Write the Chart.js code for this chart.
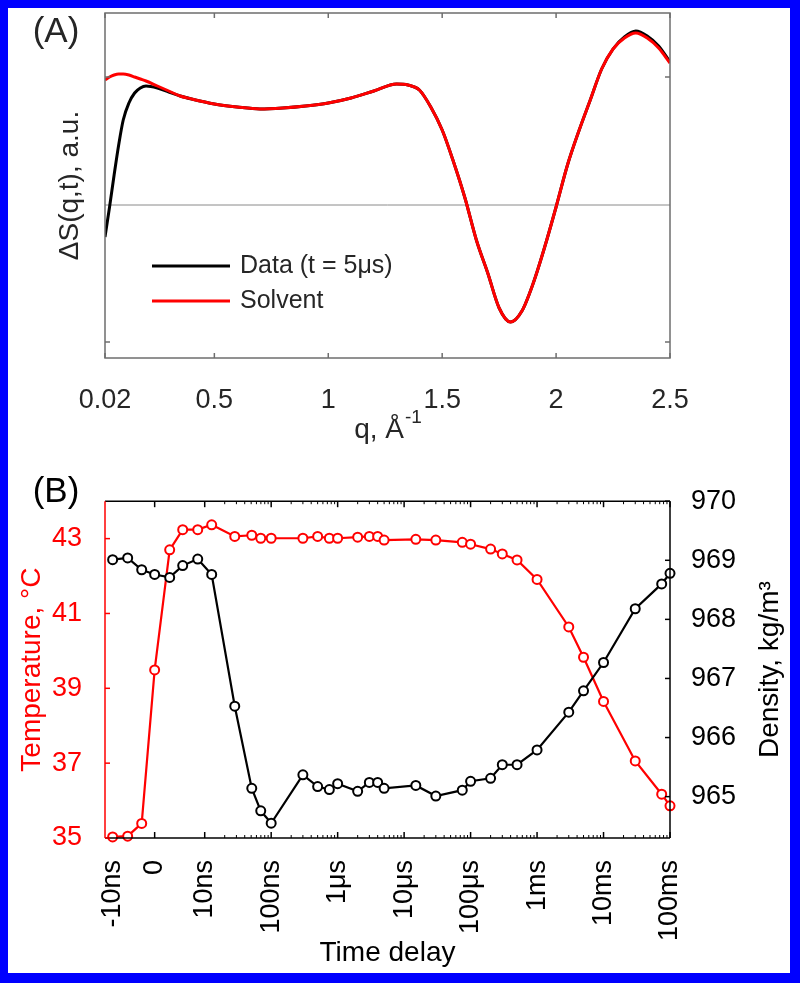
<!DOCTYPE html>
<html>
<head>
<meta charset="utf-8">
<script src="https://cdn.jsdelivr.net/npm/chart.js@4.4.0/dist/chart.umd.min.js"></script>
<style>
  html, body { margin: 0; padding: 0; background: #fff; }
  #page { position: relative; width: 800px; height: 983px; overflow: hidden; background: #fff; }
  #frame { position: absolute; left: 0; top: 0; width: 800px; height: 983px; box-sizing: border-box;
           border: solid #0000ff; border-width: 8px 10px 10px 8px; pointer-events: none; }
  #chartA { position: absolute; left: 0; top: 0; }
  #chartB { position: absolute; left: 0; top: 470px; }
</style>
</head>
<body>
<div id="page">
  <canvas id="chartA" width="800" height="470"></canvas>
  <canvas id="chartB" width="800" height="513"></canvas>
  <div id="frame"></div>
</div>
<script>
// ---- panel (A): difference signal vs q (arbitrary units) ----
var qVals   = [0.02, 0.04, 0.06, 0.08, 0.10, 0.125, 0.15, 0.175, 0.20, 0.25, 0.30, 0.35, 0.40, 0.50, 0.60, 0.70, 0.80, 0.90, 1.00, 1.10, 1.20, 1.30, 1.35, 1.40, 1.45, 1.50, 1.55, 1.60, 1.65, 1.70, 1.75, 1.80, 1.85, 1.90, 1.95, 2.00, 2.05, 2.10, 2.15, 2.20, 2.25, 2.30, 2.35, 2.40, 2.45, 2.50];
var solvent = [1.25, 1.28, 1.30, 1.31, 1.31, 1.30, 1.28, 1.26, 1.24, 1.19, 1.14, 1.09, 1.06, 1.01, 0.98, 0.96, 0.97, 0.99, 1.02, 1.07, 1.14, 1.21, 1.20, 1.15, 0.98, 0.75, 0.43, 0.07, -0.35, -0.68, -1.03, -1.17, -1.06, -0.78, -0.42, -0.02, 0.40, 0.74, 1.05, 1.36, 1.56, 1.67, 1.72, 1.67, 1.57, 1.42];
var dataSig = [-0.32, -0.02, 0.30, 0.60, 0.85, 1.02, 1.12, 1.17, 1.19, 1.17, 1.13, 1.09, 1.06, 1.01, 0.98, 0.96, 0.97, 0.99, 1.02, 1.07, 1.14, 1.21, 1.20, 1.15, 0.98, 0.75, 0.43, 0.07, -0.35, -0.68, -1.03, -1.17, -1.06, -0.78, -0.42, -0.02, 0.40, 0.74, 1.05, 1.36, 1.56, 1.68, 1.74, 1.69, 1.59, 1.43];
var qTicks  = [0.02, 0.5, 1, 1.5, 2, 2.5];
var auTicks = [-1.37, 1.28];

// ---- panel (B): temperature and density vs time delay ----
// position on the time axis = log10(delay / ns); points before 10 ns sit on the stretch near zero
var delayPos    = [-0.385, -0.159, 0.052, 0.247, 0.473, 0.669, 0.895, 1.105, 1.452, 1.708, 1.843, 2.0, 2.477, 2.699, 2.875, 3.0, 3.301, 3.477, 3.602, 3.699, 4.176, 4.477, 4.875, 5.0, 5.301, 5.477, 5.699, 6.0, 6.477, 6.699, 7.0, 7.477, 7.875, 8.0];
var temperature = [35.03, 35.05, 35.39, 39.49, 42.70, 43.24, 43.24, 43.37, 43.06, 43.09, 43.01, 43.01, 43.01, 43.06, 43.01, 43.01, 43.04, 43.06, 43.06, 42.96, 42.98, 42.96, 42.90, 42.85, 42.72, 42.59, 42.43, 41.91, 40.64, 39.83, 38.65, 37.06, 36.17, 35.86];
var density     = [969.01, 969.04, 968.84, 968.76, 968.71, 968.91, 969.02, 968.76, 966.53, 965.14, 964.76, 964.55, 965.37, 965.17, 965.12, 965.22, 965.09, 965.24, 965.24, 965.14, 965.19, 965.01, 965.11, 965.26, 965.31, 965.54, 965.54, 965.79, 966.43, 966.79, 967.27, 968.18, 968.60, 968.78];
var delayTickPos    = [-0.385, 0.247, 1, 2, 3, 4, 5, 6, 7, 8];
var delayTickLabels = ['-10ns', '0', '10ns', '100ns', '1\u03bcs', '10\u03bcs', '100\u03bcs', '1ms', '10ms', '100ms'];
var tempTicks = [35, 37, 39, 41, 43];
var densTicks = [965, 966, 967, 968, 969, 970];

Chart.defaults.font.family = '"Liberation Sans", Arial, sans-serif';

function pts(xs, ys) {
  return xs.map(function (x, i) { return { x: x, y: ys[i] }; });
}

function line(ctx, x1, y1, x2, y2) {
  ctx.beginPath();
  ctx.moveTo(x1, y1);
  ctx.lineTo(x2, y2);
  ctx.stroke();
}

// zero line, box, inward ticks, legend and labels for (A)
var frameA = {
  id: 'frameA',
  beforeDatasetsDraw: function (chart) {
    var ctx = chart.ctx, a = chart.chartArea;
    var y0 = chart.scales.y.getPixelForValue(0);
    ctx.save();
    ctx.strokeStyle = '#8a8a8a';
    ctx.lineWidth = 1;
    line(ctx, a.left, y0, a.right, y0);
    ctx.restore();
  },
  afterDraw: function (chart) {
    var ctx = chart.ctx, a = chart.chartArea;
    var xs = chart.scales.x, ys = chart.scales.y;
    ctx.save();
    ctx.strokeStyle = '#6e6e6e';
    ctx.lineWidth = 1.5;
    ctx.strokeRect(a.left, a.top, a.right - a.left, a.bottom - a.top);
    qTicks.forEach(function (v) {
      var px = xs.getPixelForValue(v);
      line(ctx, px, a.bottom, px, a.bottom - 5);
      line(ctx, px, a.top, px, a.top + 5);
    });
    auTicks.forEach(function (v) {
      var py = ys.getPixelForValue(v);
      line(ctx, a.left, py, a.left + 5, py);
      line(ctx, a.right, py, a.right - 5, py);
    });

    // legend
    var lx = a.left + 47, ly = a.top + 253;
    ctx.lineWidth = 3;
    ctx.strokeStyle = '#000';
    line(ctx, lx, ly, lx + 78, ly);
    ctx.strokeStyle = '#ff0000';
    line(ctx, lx, ly + 35, lx + 78, ly + 35);
    ctx.fillStyle = '#262626';
    ctx.font = '25px "Liberation Sans", Arial, sans-serif';
    ctx.textAlign = 'left';
    ctx.textBaseline = 'middle';
    ctx.fillText('Data (t = 5\u03bcs)', lx + 88, ly);
    ctx.fillText('Solvent', lx + 88, ly + 35);

    // panel label
    ctx.font = '35px "Liberation Sans", Arial, sans-serif';
    ctx.textAlign = 'center';
    ctx.fillText('(A)', 56, 32);

    // x title with superscript
    var cx = (a.left + a.right) / 2, cy = 430;
    ctx.font = '28px "Liberation Sans", Arial, sans-serif';
    var w1 = ctx.measureText('q, \u00c5').width;
    ctx.font = '19px "Liberation Sans", Arial, sans-serif';
    var w2 = ctx.measureText('-1').width;
    var x0 = cx - (w1 + w2) / 2;
    ctx.textAlign = 'left';
    ctx.font = '28px "Liberation Sans", Arial, sans-serif';
    ctx.fillText('q, \u00c5', x0, cy);
    ctx.font = '19px "Liberation Sans", Arial, sans-serif';
    ctx.fillText('-1', x0 + w1 + 1, cy - 12);
    ctx.restore();
  }
};

// box, inward ticks and labels for (B)
var frameB = {
  id: 'frameB',
  afterDraw: function (chart) {
    var ctx = chart.ctx, a = chart.chartArea;
    var xs = chart.scales.x, yt = chart.scales.yT, yd = chart.scales.yD;
    ctx.save();
    ctx.lineWidth = 1.5;
    ctx.strokeStyle = '#000';
    line(ctx, a.left, a.top, a.right, a.top);
    line(ctx, a.left, a.bottom, a.right, a.bottom);
    line(ctx, a.right, a.top, a.right, a.bottom);
    delayTickPos.slice(1).forEach(function (v) {
      var px = xs.getPixelForValue(v);
      line(ctx, px, a.bottom, px, a.bottom - 6);
      line(ctx, px, a.top, px, a.top + 6);
    });
    ctx.lineWidth = 1;
    for (var d = 1; d < 8; d++) {
      for (var k = 2; k < 10; k++) {
        var px = xs.getPixelForValue(d + Math.log10(k));
        line(ctx, px, a.bottom, px, a.bottom - 3);
        line(ctx, px, a.top, px, a.top + 3);
      }
    }
    ctx.lineWidth = 1.5;
    densTicks.forEach(function (v) {
      var py = yd.getPixelForValue(v);
      line(ctx, a.right, py, a.right - 5, py);
    });
    ctx.strokeStyle = '#ff0000';
    line(ctx, a.left, a.top, a.left, a.bottom);
    tempTicks.forEach(function (v) {
      var py = yt.getPixelForValue(v);
      line(ctx, a.left, py, a.left + 5, py);
    });

    ctx.fillStyle = '#000';
    ctx.textAlign = 'center';
    ctx.textBaseline = 'middle';
    ctx.font = '35px "Liberation Sans", Arial, sans-serif';
    ctx.fillText('(B)', 56, 22);

    // right title, reading upwards
    ctx.translate(770, (a.top + a.bottom) / 2);
    ctx.rotate(-Math.PI / 2);
    ctx.font = '28px "Liberation Sans", Arial, sans-serif';
    ctx.fillText('Density, kg/m\u00b3', 0, 0);
    ctx.restore();
  }
};

new Chart(document.getElementById('chartA'), {
  type: 'line',
  data: {
    datasets: [
      { label: 'Solvent', data: pts(qVals, solvent), borderColor: '#ff0000', borderWidth: 3,
        pointRadius: 0, cubicInterpolationMode: 'monotone', fill: false },
      { label: 'Data (t = 5\u03bcs)', data: pts(qVals, dataSig), borderColor: '#000', borderWidth: 3,
        pointRadius: 0, cubicInterpolationMode: 'monotone', fill: false }
    ]
  },
  options: {
    responsive: false,
    animation: false,
    layout: { padding: { top: 13, right: 130, bottom: 0, left: 0 } },
    plugins: { legend: { display: false }, tooltip: { enabled: false } },
    scales: {
      x: {
        type: 'linear', min: 0.02, max: 2.5,
        afterBuildTicks: function (s) { s.ticks = qTicks.map(function (v) { return { value: v }; }); },
        ticks: { callback: function (v) { return String(v); }, font: { size: 27 }, color: '#262626',
                 padding: 18, maxRotation: 0, autoSkip: false },
        grid: { display: false }, border: { display: false },
        afterFit: function (s) { s.height = 112; }
      },
      y: {
        type: 'linear', min: -1.53, max: 1.92,
        ticks: { display: false }, grid: { display: false }, border: { display: false },
        title: { display: true, text: '\u0394S(q,t), a.u.', font: { size: 28 }, color: '#262626',
                 padding: { top: 53, bottom: 0 } },
        afterFit: function (s) { s.width = 105; }
      }
    }
  },
  plugins: [frameA]
});

new Chart(document.getElementById('chartB'), {
  type: 'line',
  data: {
    datasets: [
      { label: 'Density', data: pts(delayPos, density), yAxisID: 'yD', borderColor: '#000',
        borderWidth: 2.2, pointRadius: 4.5, pointBorderWidth: 2, pointBackgroundColor: '#fff',
        pointBorderColor: '#000', tension: 0, clip: false },
      { label: 'Temperature', data: pts(delayPos, temperature), yAxisID: 'yT', borderColor: '#ff0000',
        borderWidth: 2.2, pointRadius: 4.5, pointBorderWidth: 2, pointBackgroundColor: '#fff',
        pointBorderColor: '#ff0000', tension: 0, clip: false }
    ]
  },
  options: {
    responsive: false,
    animation: false,
    layout: { padding: { top: 23, right: 0, bottom: 0, left: 0 } },
    plugins: { legend: { display: false }, tooltip: { enabled: false } },
    scales: {
      x: {
        type: 'linear', min: -0.5, max: 8,
        afterBuildTicks: function (s) { s.ticks = delayTickPos.map(function (v) { return { value: v }; }); },
        ticks: { callback: function (v, i) { return delayTickLabels[i]; }, minRotation: 90, maxRotation: 90,
                 autoSkip: false, font: { size: 27 }, color: '#000', padding: 14 },
        grid: { display: false }, border: { display: false },
        title: { display: true, text: 'Time delay', font: { size: 28 }, color: '#000',
                 padding: { top: 0, bottom: 13 } },
        afterFit: function (s) { s.height = 145; }
      },
      yT: {
        type: 'linear', position: 'left', min: 35, max: 44,
        afterBuildTicks: function (s) { s.ticks = tempTicks.map(function (v) { return { value: v }; }); },
        ticks: { font: { size: 27 }, color: '#ff0000', padding: 15 },
        grid: { display: false }, border: { display: false },
        title: { display: true, text: 'Temperature, \u00b0C', font: { size: 28 }, color: '#ff0000',
                 padding: { top: 15, bottom: 0 } },
        afterFit: function (s) { s.width = 105; }
      },
      yD: {
        type: 'linear', position: 'right', min: 964.3, max: 970,
        afterBuildTicks: function (s) { s.ticks = densTicks.map(function (v) { return { value: v }; }); },
        ticks: { font: { size: 27 }, color: '#000', padding: 13 },
        grid: { display: false }, border: { display: false },
        afterFit: function (s) { s.width = 130; }
      }
    }
  },
  plugins: [frameB]
});
</script>
</body>
</html>
